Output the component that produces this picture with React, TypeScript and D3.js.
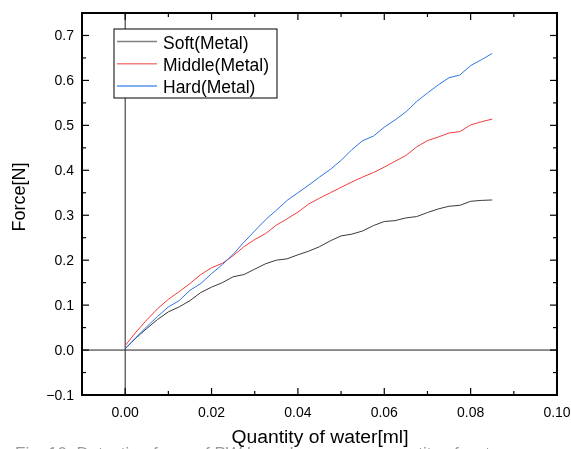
import * as d3 from "d3";
import React, { useEffect, useRef } from "react";

// water quantity [ml]
const water = [
  0, 0.0025, 0.005, 0.0075, 0.01, 0.0125, 0.015, 0.0175, 0.02, 0.0225, 0.025, 0.0275, 0.03, 0.0325, 0.035, 0.0375,
  0.04, 0.0425, 0.045, 0.0475, 0.05, 0.0525, 0.055, 0.0575, 0.06, 0.0625, 0.065, 0.0675, 0.07, 0.0725, 0.075,
  0.0775, 0.08, 0.0825, 0.085,
];
// force [N]
const soft = [
  0.003, 0.027, 0.048, 0.068, 0.085, 0.096, 0.11, 0.128, 0.14, 0.15, 0.163, 0.168, 0.18, 0.192, 0.2, 0.203,
  0.212, 0.22, 0.23, 0.243, 0.254, 0.258, 0.265, 0.277, 0.286, 0.288, 0.294, 0.297, 0.306, 0.314, 0.32,
  0.322, 0.331, 0.333, 0.334,
];
const middle = [
  0.01, 0.04, 0.067, 0.092, 0.113, 0.13, 0.148, 0.168, 0.183, 0.193, 0.21, 0.23, 0.246, 0.259, 0.278, 0.292,
  0.307, 0.325, 0.338, 0.35, 0.362, 0.374, 0.385, 0.395, 0.407, 0.42, 0.433, 0.452, 0.466, 0.474, 0.483,
  0.486, 0.501, 0.508, 0.514,
];
const hard = [
  0.003, 0.028, 0.052, 0.075, 0.096, 0.11, 0.133, 0.148, 0.17, 0.19, 0.213, 0.24, 0.265, 0.29, 0.311, 0.333,
  0.35, 0.367, 0.385, 0.402, 0.422, 0.446, 0.466, 0.476, 0.496, 0.512, 0.53, 0.553, 0.572, 0.59, 0.606,
  0.612, 0.633, 0.646, 0.66,
];

const seriesNames = ["Soft(Metal)", "Middle(Metal)", "Hard(Metal)"];
const seriesColors = ["#3a3a3a", "#f03c3c", "#2f74e4"];
const legendColors = ["#808080", "#f48080", "#80b0f0"];

const xTicks = [0, 0.02, 0.04, 0.06, 0.08, 0.1];
const yTicks = [-0.1, 0, 0.1, 0.2, 0.3, 0.4, 0.5, 0.6, 0.7];

export default function App() {
  const svgRef = useRef(null);
  const width = 571;
  const height = 449;
  const margin = { top: 13, right: 14, bottom: 54, left: 82 };

  useEffect(() => {
    const svgEl = d3.select(svgRef.current);
    svgEl.selectAll("*").remove();
    const font = "'Liberation Sans', Arial, sans-serif";

    const x = d3.scaleLinear().domain([-0.01, 0.1]).range([margin.left, width - margin.right]);
    const y = d3.scaleLinear().domain([-0.1, 0.75]).range([height - margin.bottom, margin.top]);
    const x0 = x.range()[0], x1 = x.range()[1];
    const y0 = y.range()[0], y1 = y.range()[1];

    // zero lines
    svgEl.append("line").attr("x1", x(0)).attr("x2", x(0)).attr("y1", y1).attr("y2", y0)
      .attr("stroke", "#222").attr("stroke-width", 1);
    svgEl.append("line").attr("x1", x0).attr("x2", x1).attr("y1", y(0)).attr("y2", y(0))
      .attr("stroke", "#222").attr("stroke-width", 1);

    // data lines
    const data = [soft, middle, hard];
    const line = d3.line<number>().x((d, i) => x(water[i])).y((d) => y(d));
    data.forEach((s, k) => {
      svgEl.append("path").datum(s).attr("d", line).attr("fill", "none")
        .attr("stroke", seriesColors[k]).attr("stroke-width", 1);
    });

    // ticks (inward, all four sides)
    const xMinor = d3.range(-0.01, 0.1001, 0.01);
    const yMinor = d3.range(-0.1, 0.7501, 0.05);
    const tk = svgEl.append("g").attr("stroke", "#000").attr("stroke-width", 1.2);
    xMinor.forEach((v) => {
      const major = xTicks.some((t) => Math.abs(t - v) < 1e-6);
      const len = major ? 7 : 4;
      tk.append("line").attr("x1", x(v)).attr("x2", x(v)).attr("y1", y0).attr("y2", y0 - len);
      tk.append("line").attr("x1", x(v)).attr("x2", x(v)).attr("y1", y1).attr("y2", y1 + len);
    });
    yMinor.forEach((v) => {
      const major = yTicks.some((t) => Math.abs(t - v) < 1e-6);
      const len = major ? 7 : 4;
      tk.append("line").attr("x1", x0).attr("x2", x0 + len).attr("y1", y(v)).attr("y2", y(v));
      tk.append("line").attr("x1", x1).attr("x2", x1 - len).attr("y1", y(v)).attr("y2", y(v));
    });

    // frame
    svgEl.append("rect").attr("x", x0).attr("y", y1).attr("width", x1 - x0).attr("height", y0 - y1)
      .attr("fill", "none").attr("stroke", "#000").attr("stroke-width", 2);

    // tick labels
    svgEl.selectAll(".xl").data(xTicks).enter().append("text")
      .attr("x", (d) => x(d)).attr("y", 417).attr("text-anchor", "middle")
      .attr("font-family", font).attr("font-size", 14).attr("fill", "#000")
      .text((d) => d3.format(".2f")(d));
    svgEl.selectAll(".yl").data(yTicks).enter().append("text")
      .attr("x", 74).attr("y", (d) => y(d) + 5).attr("text-anchor", "end")
      .attr("font-family", font).attr("font-size", 14).attr("fill", "#000")
      .text((d) => (d < 0 ? "\u22120.1" : d3.format(".1f")(d)));

    // axis titles
    svgEl.append("text").attr("x", 320).attr("y", 443).attr("text-anchor", "middle")
      .attr("font-family", font).attr("font-size", 18).attr("fill", "#000")
      .attr("textLength", 177).attr("lengthAdjust", "spacingAndGlyphs")
      .text("Quantity of water[ml]");
    svgEl.append("text").attr("transform", "translate(25,197) rotate(-90)").attr("text-anchor", "middle")
      .attr("font-family", font).attr("font-size", 18).attr("fill", "#000")
      .text("Force[N]");

    // legend
    const lg = svgEl.append("g");
    lg.append("rect").attr("x", 114).attr("y", 29).attr("width", 163).attr("height", 69)
      .attr("fill", "#fff").attr("stroke", "#000").attr("stroke-width", 1);
    seriesNames.forEach((name, k) => {
      const ly = 41.5 + k * 22.3;
      lg.append("line").attr("x1", 117).attr("x2", 157).attr("y1", ly).attr("y2", ly)
        .attr("stroke", legendColors[k]).attr("stroke-width", k === 2 ? 2 : 1.5);
      lg.append("text").attr("x", 163).attr("y", ly + 7).attr("font-family", font)
        .attr("font-size", 17.5).attr("fill", "#000").text(name);
    });

    // caption (cut off at page bottom, as in the source figure)
    svgEl.append("text").attr("x", 15).attr("y", 459).attr("font-family", font)
      .attr("font-size", 17).attr("fill", "#999")
      .text("Fig. 10. Detection force of PW-based sensor vs. quantity of water");
  });

  return (
    <div style={{ position: "fixed", left: 0, top: 0 }}>
      <svg width={width} height={height} ref={svgRef} style={{ display: "block" }}></svg>
    </div>
  );
}
